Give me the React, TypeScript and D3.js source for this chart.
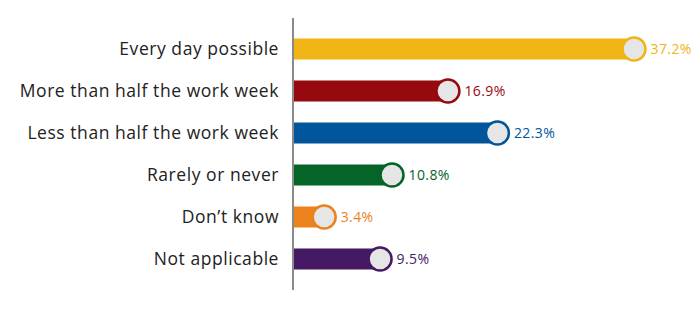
import React from "react";
import * as d3 from "d3";

const categories = [
  "Every day possible",
  "More than half the work week",
  "Less than half the work week",
  "Rarely or never",
  "Don\u2019t know",
  "Not applicable",
];
const values = [37.2, 16.9, 22.3, 10.8, 3.4, 9.5];
const colors = ["#F0B414", "#960A0F", "#00559B", "#056428", "#EB821E", "#461964"];

const W = 700;
const H = 319;

export default function App() {
  const x = d3.scaleLinear().domain([0, 37.2]).range([293, 634]);
  const y = d3.scaleBand().domain(categories).range([28, 280]).paddingInner(0.5).paddingOuter(0.25);
  const bw = 21;
  const r = 11.5;
  return (
    <svg width={W} height={H} style={{ position: "absolute", left: 0, top: 0, fontFamily: "'Open Sans', sans-serif" }}>
      {categories.map((c, i) => {
        const cy = (y(c) as number) + y.bandwidth() / 2;
        const xe = x(values[i]);
        return (
          <g key={c}>
            <rect x={x(0)} y={cy - bw / 2} width={xe - x(0)} height={bw} fill={colors[i]} />
            <circle cx={xe} cy={cy} r={r} fill="#E6E6E6" stroke={colors[i]} strokeWidth={2.5} />
            <text x={xe + r + 5} y={cy} dy="0.35em" fontSize={14} letterSpacing={0.4} fill={colors[i]}>
              {values[i].toFixed(1)}%
            </text>
            <text x={279} y={cy} dy="0.35em" fontSize={17.5} letterSpacing={0.55} fill="#222" textAnchor="end">
              {c}
            </text>
          </g>
        );
      })}
      <line x1={293} x2={293} y1={18} y2={290} stroke="#8a8a8a" strokeWidth={2} />
    </svg>
  );
}
